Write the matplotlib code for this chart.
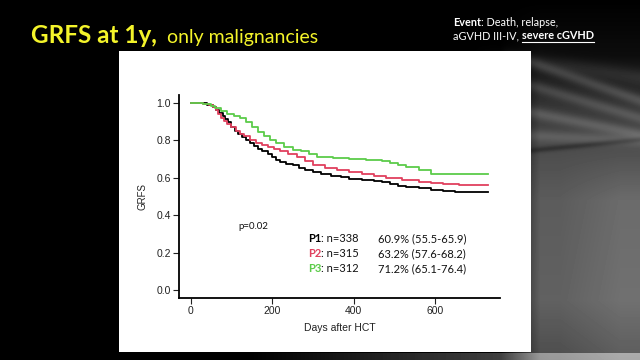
import numpy as np
import matplotlib
matplotlib.use("Agg")
import matplotlib.pyplot as plt
from matplotlib.patches import Rectangle
from matplotlib.lines import Line2D

# Kaplan-Meier step points (days, GRFS)
p1_t = [0, 20, 40, 55, 62, 70, 78, 85, 92, 100, 108, 115, 125, 135, 145, 155, 165, 175,
        190, 200, 210, 220, 235, 250, 265, 280, 300, 320, 345, 370, 390, 420, 450, 470,
        490, 510, 530, 560, 590, 620, 650, 730]
p1_s = [1.0, 0.995, 0.985, 0.975, 0.96, 0.945, 0.93, 0.91, 0.895, 0.87, 0.85, 0.83, 0.815,
        0.80, 0.785, 0.77, 0.755, 0.74, 0.725, 0.71, 0.695, 0.685, 0.675, 0.665, 0.65, 0.64,
        0.63, 0.62, 0.61, 0.605, 0.595, 0.59, 0.585, 0.575, 0.565, 0.555, 0.55, 0.545, 0.535,
        0.53, 0.525, 0.525]
p2_t = [0, 30, 45, 55, 62, 68, 75, 82, 90, 100, 110, 120, 130, 145, 160, 175, 190, 205, 220,
        240, 260, 280, 300, 330, 360, 390, 420, 450, 480, 520, 560, 590, 620, 660, 730]
p2_s = [1.0, 0.99, 0.985, 0.975, 0.96, 0.94, 0.92, 0.9, 0.885, 0.87, 0.85, 0.835, 0.82, 0.80,
        0.785, 0.775, 0.765, 0.755, 0.74, 0.725, 0.71, 0.69, 0.67, 0.65, 0.64, 0.63, 0.62,
        0.61, 0.60, 0.59, 0.575, 0.57, 0.565, 0.56, 0.56]
p3_t = [0, 30, 50, 60, 75, 90, 105, 120, 135, 150, 165, 180, 195, 210, 230, 250, 270, 290,
        310, 350, 390, 430, 470, 490, 510, 530, 560, 590, 730]
p3_s = [1.0, 0.99, 0.98, 0.97, 0.955, 0.94, 0.93, 0.915, 0.895, 0.87, 0.845, 0.82, 0.8,
        0.785, 0.765, 0.75, 0.74, 0.725, 0.71, 0.705, 0.70, 0.695, 0.69, 0.68, 0.665, 0.655,
        0.64, 0.622, 0.622]

groups = ["P1", "P2", "P3"]
ns = [338, 315, 312]
rates = ["60.9% (55.5-65.9)", "63.2% (57.6-68.2)", "71.2% (65.1-76.4)"]
colors = ["#000000", "#e0405e", "#5ccc4a"]
xticks = [0, 200, 400, 600]
yticks = [0.0, 0.2, 0.4, 0.6, 0.8, 1.0]

W, H = 640, 360
fig = plt.figure(figsize=(6.4, 3.6), dpi=100, facecolor="black")
renderer = fig.canvas.get_renderer()


def chain(x, y, pieces, size, underline=None):
    # write text pieces one after the other, in figure pixels from the top-left
    for txt, kw in pieces:
        t = fig.text(x / W, 1 - y / H, txt, fontsize=size, family="Lato",
                     va="baseline", **kw)
        bb = t.get_window_extent(renderer)
        if underline is not None and txt == underline:
            fig.lines.append(Line2D([bb.x0 / W, bb.x1 / W], [1 - (y + 2.5) / H] * 2,
                                    color=kw.get("color", "white"), lw=0.8,
                                    transform=fig.transFigure))
        x += bb.width


# slide background: black with soft grey light streaks on the right
bg = fig.add_axes([0, 0, 1, 1])
yy, xx = np.mgrid[0:H, 0:W].astype(float)
right = np.clip((xx - 500) / 40, 0, 1)
img = right * np.interp(yy, [0, 55, 110, 150, 200, 300, 360], [0.0, 0.05, 0.22, 0.3, 0.36, 0.38, 0.3])
img += right * 0.06 * np.clip((xx - 560) / 60, 0, 1) * np.clip((yy - 140) / 60, 0, 1)
img += 0.07 * np.clip((xx - 470) / 100, 0, 1) * np.exp(-((yy - 0.15 * (xx - 430) - 45) / 8) ** 2)
for y0, slope, amp in [(62, 0.35, 0.14), (85, 0.3, 0.12), (112, 0.2, 0.13), (135, 0.05, 0.1)]:
    img += right * amp * np.exp(-((yy - slope * (xx - 531) - y0) / 6.0) ** 2)
img -= right * 0.1 * np.exp(-((yy + 0.1 * (xx - 531) - 150) / 3.0) ** 2)
img += np.clip((xx - 250) / 300, 0, 1) * 0.3 * (yy > 352)
bg.imshow(np.clip(img, 0, 1), cmap="gray", vmin=0, vmax=1, aspect="auto",
          extent=[0, W, H, 0], interpolation="bilinear")
bg.set_xlim(0, W)
bg.set_ylim(H, 0)
bg.axis("off")

# white picture panel
fig.patches.append(Rectangle((119 / W, 1 - 352 / H), 412 / W, 301 / H,
                             transform=fig.transFigure, facecolor="white",
                             edgecolor="none", zorder=1))

yellow = "#f4f42a"
chain(31, 43, [("GRFS at 1y,", dict(color=yellow, fontweight="bold"))], 17.5)
chain(167, 43, [("only malignancies", dict(color=yellow))], 14)
chain(453, 26, [("Event", dict(color="white", fontweight="bold")),
                (": Death, relapse,", dict(color="white"))], 7.8)
chain(453, 39, [("aGVHD III-IV, ", dict(color="white")),
                ("severe cGVHD", dict(color="white", fontweight="bold"))], 7.8,
      underline="severe cGVHD")

ax = fig.add_axes([179 / W, 1 - 298 / H, 321 / W, 203 / H], zorder=3)
ax.set_facecolor("none")
for t, s, c in zip([p1_t, p2_t, p3_t], [p1_s, p2_s, p3_s], colors):
    ax.plot(t, s, drawstyle="steps-post", color=c, lw=1.3)
ax.set_xlim(-29, 760)
ax.set_ylim(-0.04, 1.04)
ax.spines["top"].set_visible(False)
ax.spines["right"].set_visible(False)
for sp in ["left", "bottom"]:
    ax.spines[sp].set_linewidth(1.3)
ax.set_xticks(xticks)
ax.set_yticks(yticks)
ax.set_yticklabels(["%.1f" % v for v in yticks])
ax.tick_params(labelsize=7.5, colors="#222222", length=4, width=0.8, pad=2)
for lab in ax.get_xticklabels() + ax.get_yticklabels():
    lab.set_family("Liberation Sans")
ax.set_xlabel("Days after HCT", fontsize=7.5, family="Liberation Sans", color="#222222",
              labelpad=5)
ax.set_ylabel("GRFS", fontsize=7, family="Liberation Sans", color="#222222", labelpad=6)

dark = "#111111"
chain(238, 229, [("p=0.02", dict(color=dark))], 7)
for i, (g, n, r, c) in enumerate(zip(groups, ns, rates, colors)):
    yb = 242 + i * 15
    chain(308, yb, [(g, dict(color=c, fontweight="bold")),
                    (": n=%d" % n, dict(color=dark))], 8)
    chain(378, yb, [(r, dict(color=dark))], 8)

fig.savefig("out.png", dpi=100, facecolor="black")
